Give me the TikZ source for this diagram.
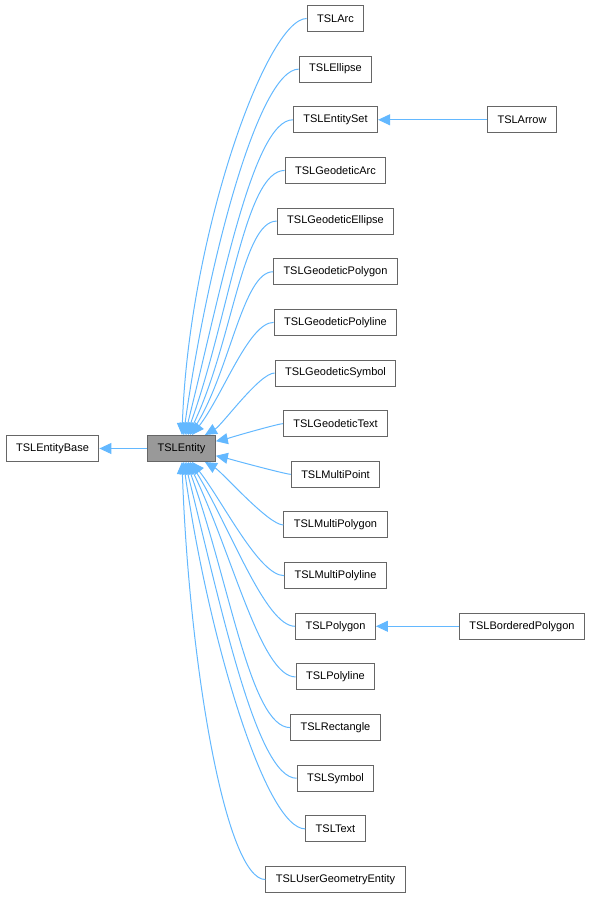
\documentclass[tikz,border=0pt]{standalone}
\usepackage{fontspec}
\setmainfont{Liberation Sans}
\usepackage{tikz}
\usetikzlibrary{arrows.meta}
\definecolor{edgeblue}{HTML}{63b8ff}
\definecolor{boxline}{HTML}{666666}
\definecolor{boxgray}{HTML}{999999}

\begin{document}
\begin{tikzpicture}[x=1pt, y=1pt,
  block/.style={rectangle, draw=boxline, fill=white, line width=1pt, minimum height=26pt, inner xsep=10pt, font=\fontsize{11}{13}\selectfont},
  arrow/.style={-{Triangle[length=12pt,width=11pt]}, line width=1pt, color=edgeblue}
]
\useasboundingbox (0,0) rectangle (593,899);

% base classes
\node[block] (base) at (52.5,450.5) {TSLEntityBase};
\node[block, fill=boxgray] (entity) at (181.5,450.5) {TSLEntity};

% derived classes, one per row
\foreach \n/\t [count=\i from 0] in {arc/TSLArc, ellipse/TSLEllipse, entset/TSLEntitySet,
    garc/TSLGeodeticArc, gellipse/TSLGeodeticEllipse, gpolygon/TSLGeodeticPolygon,
    gpolyline/TSLGeodeticPolyline, gsymbol/TSLGeodeticSymbol, gtext/TSLGeodeticText,
    mpoint/TSLMultiPoint, mpolygon/TSLMultiPolygon, mpolyline/TSLMultiPolyline,
    polygon/TSLPolygon, polyline/TSLPolyline, rect/TSLRectangle, symbol/TSLSymbol,
    text/TSLText, ugentity/TSLUserGeometryEntity}
  \node[block] (\n) at (335.5,{880.5-50.65*\i}) {\t};

\node[block] (tarrow) at (522,{880.5-50.65*2}) {TSLArrow};
\node[block] (bpolygon) at (522,{880.5-50.65*12}) {TSLBorderedPolygon};

\draw[arrow] (entity) -- (base);
\draw[arrow] (tarrow) -- (entset);
\draw[arrow] (bpolygon) -- (polygon);

% fan into TSLEntity
\foreach \n/\a/\o/\d in {arc/88/40/200, ellipse/82/40/175, entset/76/40/150,
    garc/70/40/125, gellipse/64/35/100, gpolygon/58/30/75, gpolyline/52/25/50,
    gsymbol/30/15/20, gtext/12/5/5, mpoint/-12/5/5, mpolygon/-30/15/20,
    mpolyline/-52/25/50, polygon/-58/30/75, polyline/-64/35/100, rect/-70/40/125,
    symbol/-76/40/150, text/-82/40/175, ugentity/-88/40/200}
  \draw[arrow] (\n.west) to[out=180, in=\a, out distance=\o, in distance=\d] (entity.\a);
\end{tikzpicture}
\end{document}
